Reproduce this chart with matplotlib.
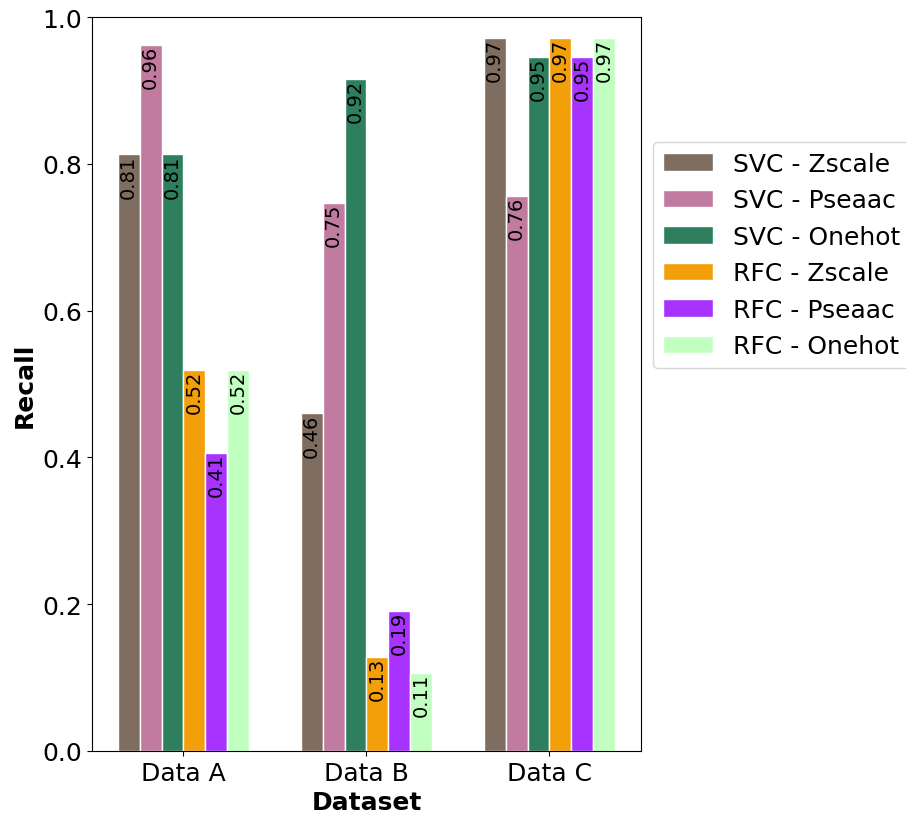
import numpy as np
import matplotlib
matplotlib.use('Agg')
from matplotlib import pyplot as plt

datasets = ['Data A', 'Data B', 'Data C']
series_names = ['SVC - Zscale', 'SVC - Pseaac', 'SVC - Onehot',
                'RFC - Zscale', 'RFC - Pseaac', 'RFC - Onehot']
svc_zscale = [0.813, 0.460, 0.972]
svc_pseaac = [0.962, 0.747, 0.756]
svc_onehot = [0.813, 0.916, 0.946]
rfc_zscale = [0.519, 0.128, 0.972]
rfc_pseaac = [0.406, 0.191, 0.946]
rfc_onehot = [0.519, 0.106, 0.972]
colors = ['#7f6d5f', '#c27ba0', '#2d7f5e', '#f39f0a', '#a833ff', '#c1ffc1']

all_series = [svc_zscale, svc_pseaac, svc_onehot, rfc_zscale, rfc_pseaac, rfc_onehot]

fig = plt.figure(figsize=(9.06, 8.2), dpi=100)
ax = fig.add_axes([0.1015, 0.083, 0.606, 0.895])

width = 0.12
x = np.arange(len(datasets))
for i, (vals, name, col) in enumerate(zip(all_series, series_names, colors)):
    pos = x + (i - 2.5) * width
    bars = ax.bar(pos, vals, width, color=col, edgecolor='white', label=name)
    for b, v in zip(bars, vals):
        ax.text(b.get_x() + b.get_width() / 2, v, f'{v:.2f}', rotation=90,
                ha='center', va='top', fontsize=14)

ax.set_xlim(-0.5, 2.5)
ax.set_ylim(0, 1.0)
ax.set_xticks(x)
ax.set_xticklabels(datasets, fontsize=18)
ax.tick_params(axis='y', labelsize=18)
ax.set_xlabel('Dataset', fontweight='bold', fontsize=18)
ax.set_ylabel('Recall', fontweight='bold', fontsize=18)
ax.legend(loc='upper left', bbox_to_anchor=(1.022, 0.83), borderaxespad=0,
          fontsize=18)

fig.savefig('out.png', dpi=100)
